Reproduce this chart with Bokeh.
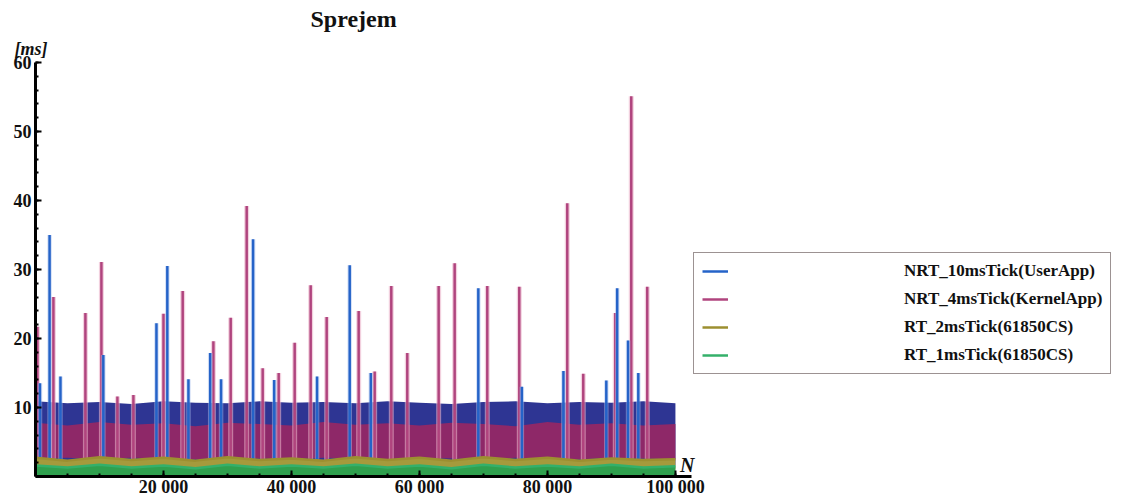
from bokeh.plotting import figure
from bokeh.models import (Range1d, FixedTicker, Legend, LegendItem, Label, Title, ColumnDataSource)
from bokeh.embed import file_html
from bokeh.resources import INLINE

# ---------------- data ----------------
title_text = "Sprejem"
y_unit = "[ms]"
x_name = "N"
series_names = ["NRT_10msTick(UserApp)", "NRT_4msTick(KernelApp)",
                "RT_2msTick(61850CS)", "RT_1msTick(61850CS)"]

# envelope of the dense traces, sampled every 5000 samples
band_x = [0, 5000, 10000, 15000, 20000, 25000, 30000, 35000, 40000, 45000, 50000,
          55000, 60000, 65000, 70000, 75000, 80000, 85000, 90000, 95000, 100000]
blue_top = [10.9, 10.6, 10.8, 10.5, 10.9, 10.7, 10.6, 10.9, 10.7, 10.8, 10.6,
            10.9, 10.7, 10.5, 10.8, 10.9, 10.6, 10.8, 10.7, 10.9, 10.6]
blue_bottom = [1.5, 2.0, 1.9, 2.1, 1.8, 2.0, 1.9, 2.1, 1.8, 2.0, 1.9,
               2.0, 1.8, 2.1, 1.9, 2.0, 1.8, 2.1, 1.9, 2.0, 1.6]
mag_top = [7.8, 7.4, 7.9, 7.5, 7.7, 7.3, 7.8, 7.6, 7.4, 7.9, 7.5,
           7.7, 7.4, 7.8, 7.6, 7.3, 7.9, 7.5, 7.7, 7.4, 7.6]
mag_bottom = [2.6, 2.7, 2.5, 2.7, 2.6, 2.5, 2.7, 2.6, 2.5, 2.7, 2.6,
              2.5, 2.7, 2.6, 2.5, 2.7, 2.6, 2.5, 2.7, 2.6, 2.5]
olive_top = [2.7, 2.3, 2.8, 2.4, 2.7, 2.3, 2.8, 2.4, 2.6, 2.3, 2.8,
             2.4, 2.7, 2.3, 2.8, 2.4, 2.7, 2.3, 2.6, 2.4, 2.5]
olive_bottom = [1.0, 1.1, 1.0, 1.1, 1.0, 1.1, 1.0, 1.1, 1.0, 1.1, 1.0,
                1.1, 1.0, 1.1, 1.0, 1.1, 1.0, 1.1, 1.0, 1.1, 1.0]
green_top = [1.6, 1.3, 1.7, 1.3, 1.6, 1.2, 1.7, 1.3, 1.6, 1.3, 1.7,
             1.3, 1.6, 1.2, 1.7, 1.3, 1.6, 1.3, 1.7, 1.3, 1.5]
green_bottom = [0.0] * 21

# isolated peaks
blue_spike_x = [700, 2200, 3900, 10600, 18900, 20600, 23900, 27300, 29000, 34000, 37300,
                44000, 49100, 52400, 69200, 76000, 82500, 89200, 90900, 92600, 94200]
blue_spike_y = [13.5, 35.0, 14.5, 17.6, 22.2, 30.5, 14.1, 17.9, 14.1, 34.4, 14.0,
                14.5, 30.6, 15.0, 27.3, 13.0, 15.3, 13.9, 27.3, 19.7, 15.0]
mag_spike_x = [300, 2800, 7800, 10300, 12800, 15300, 20000, 23000, 27800, 30500, 33000,
               35500, 38000, 40500, 43000, 45500, 50500, 53000, 55600, 58100, 63000,
               65500, 70600, 75600, 83100, 85600, 90600, 93100, 95600]
mag_spike_y = [21.7, 26.0, 23.7, 31.1, 11.6, 11.8, 23.6, 26.9, 19.6, 23.0, 39.2,
               15.7, 15.0, 19.4, 27.7, 23.1, 24.0, 15.2, 27.6, 17.9, 27.6,
               30.9, 27.6, 27.5, 39.6, 14.9, 23.7, 55.1, 27.5]

x_ticks = [20000, 40000, 60000, 80000, 100000]
x_tick_labels = ["20 000", "40 000", "60 000", "80 000", "100 000"]
x_minor = [5000 * k for k in range(0, 21)]
y_ticks = [10, 20, 30, 40, 50, 60]
y_minor = [2 * k for k in range(0, 31)]

# ---------------- figure ----------------
SERIF = "Liberation Serif"
p = figure(width=1128, height=499, output_backend="svg", toolbar_location=None,
           x_range=Range1d(0, 170800), y_range=Range1d(0, 60),
           min_border_left=35, min_border_right=0, min_border_top=62, min_border_bottom=22)
p.outline_line_color = None
p.xgrid.visible = False
p.ygrid.visible = False

p.title.text = title_text
p.title.align = "left"
p.title.offset = 275
p.title.standoff = 2
p.title.text_font = SERIF
p.title.text_font_size = "24px"
p.title.text_font_style = "bold"
p.title.text_color = "#111111"

p.add_layout(Title(text=y_unit, align="left", offset=-21, standoff=8, text_font=SERIF,
                   text_font_style="bold italic", text_font_size="18px",
                   text_color="#111111"), "above")

blue_band = "#2e3593"
mag_band = "#8e2868"
olive = "#a59a3c"
green = "#2fa04e"

p.varea(x=band_x, y1=blue_bottom, y2=blue_top, fill_color=blue_band)
p.varea(x=band_x, y1=mag_bottom, y2=mag_top, fill_color=mag_band)

ms = ColumnDataSource(dict(x=mag_spike_x, y=mag_spike_y, y0=[0] * len(mag_spike_x)))
bs = ColumnDataSource(dict(x=blue_spike_x, y=blue_spike_y, y0=[0] * len(blue_spike_x)))
p.segment(x0="x", y0="y0", x1="x", y1="y", source=ms, line_color="#eab0c8", line_width=5, line_alpha=0.6)
r_mag = p.segment(x0="x", y0="y0", x1="x", y1="y", source=ms, line_color="#b0447e", line_width=2.5)
p.segment(x0="x", y0="y0", x1="x", y1="y", source=bs, line_color="#a8c0ee", line_width=4.5, line_alpha=0.5)
r_blue = p.segment(x0="x", y0="y0", x1="x", y1="y", source=bs, line_color="#2563c8", line_width=2.5)

p.varea(x=band_x, y1=olive_bottom, y2=olive_top, fill_color=olive)
r_olive = p.line(x=band_x, y=olive_top, line_color="#9c8f30", line_width=2.5)
p.varea(x=band_x, y1=green_bottom, y2=green_top, fill_color=green)
r_green = p.line(x=band_x, y=green_top, line_color="#34b06a", line_width=2.5)

# axes
for ax in (p.xaxis[0], p.yaxis[0]):
    ax.axis_line_width = 3
    ax.axis_line_color = "black"
    ax.major_tick_in = 6
    ax.major_tick_out = 0
    ax.minor_tick_in = 3
    ax.minor_tick_out = 0
    ax.major_tick_line_width = 2
    ax.minor_tick_line_width = 2
    ax.major_label_text_font = SERIF
    ax.major_label_text_font_style = "bold"
    ax.major_label_text_font_size = "18px"
    ax.major_label_text_color = "#111111"

p.xaxis.ticker = FixedTicker(ticks=x_ticks, minor_ticks=x_minor)
p.xaxis.major_label_overrides = dict(zip(x_ticks, x_tick_labels))
p.xaxis.bounds = (0, 102500)
p.xaxis.major_label_standoff = 0
p.yaxis.ticker = FixedTicker(ticks=y_ticks, minor_ticks=y_minor)
p.yaxis.bounds = (0, 60)
p.yaxis.major_label_standoff = 4

p.add_layout(Label(x=100700, y=0, y_offset=1, text=x_name, text_font=SERIF, text_baseline="bottom",
                   text_font_style="bold italic", text_font_size="20px", text_color="#111111"))

legend = Legend(items=[LegendItem(label=series_names[0], renderers=[r_blue]),
                       LegendItem(label=series_names[1], renderers=[r_mag]),
                       LegendItem(label=series_names[2], renderers=[r_olive]),
                       LegendItem(label=series_names[3], renderers=[r_green])],
                location=(658, 102), padding=8, spacing=8, margin=0,
                label_height=20, glyph_height=20, glyph_width=26, label_standoff=176,
                label_text_font=SERIF, label_text_font_style="bold",
                label_text_font_size="17px", label_text_color="#111111",
                border_line_color="#3a2626", border_line_width=1.5,
                background_fill_color="white", background_fill_alpha=1.0)
p.add_layout(legend)

open("out.html", "w").write(file_html(p, INLINE))
